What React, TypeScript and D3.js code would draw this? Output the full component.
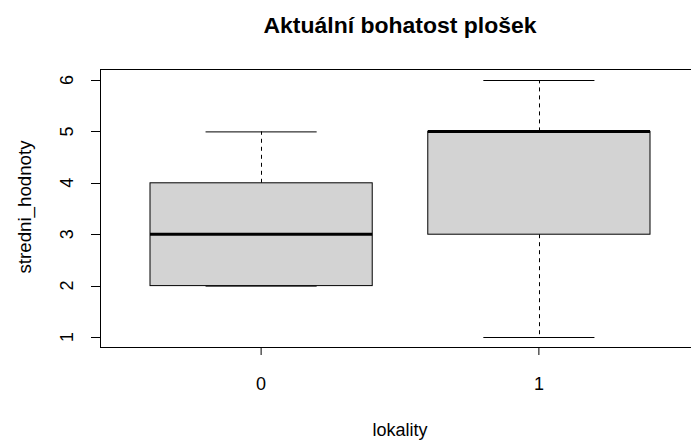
import React from "react";
import * as d3 from "d3";

const categories = ["0", "1"];
const lowerWhisker = [2, 1];
const q1 = [2, 3];
const median = [3, 5];
const q3 = [4, 5];
const upperWhisker = [5, 6];
const yTicks = [1, 2, 3, 4, 5, 6];

const W = 691;
const H = 441;

export default function App() {
  const left = 100, top = 69, bottom = 347, right = 700;
  const x = d3.scaleLinear().domain([0.42, 2.58]).range([left, right]);
  const y = d3.scaleLinear().domain([1, 6]).range([337, 80]);
  const font = "'Liberation Sans', Arial, sans-serif";
  const boxHalf = 0.4;
  const capHalf = 0.2;
  return (
    <svg width={W} height={H} style={{ position: "absolute", left: 0, top: 0, background: "#fff" }} fontFamily={font}>
      <text x={400} y={33} textAnchor="middle" fontSize={22} fontWeight="bold" textLength={273} lengthAdjust="spacingAndGlyphs">Aktuální bohatost plošek</text>
      {categories.map((c, i) => {
        const cx = x(i + 1);
        const x0 = x(i + 1 - boxHalf);
        const x1 = x(i + 1 + boxHalf);
        return (
          <g key={c}>
            <line x1={Math.round(cx) + 0.5} x2={Math.round(cx) + 0.5} y1={y(q3[i])} y2={y(upperWhisker[i])} stroke="#000" strokeDasharray="4 4" />
            <line x1={Math.round(cx) + 0.5} x2={Math.round(cx) + 0.5} y1={y(q1[i])} y2={y(lowerWhisker[i])} stroke="#000" strokeDasharray="4 4" />
            <line x1={x(i + 1 - capHalf)} x2={x(i + 1 + capHalf)} y1={y(upperWhisker[i]) + 0.5} y2={y(upperWhisker[i]) + 0.5} stroke="#000" />
            <line x1={x(i + 1 - capHalf)} x2={x(i + 1 + capHalf)} y1={y(lowerWhisker[i]) + 0.5} y2={y(lowerWhisker[i]) + 0.5} stroke="#000" />
            <rect x={x0} y={y(q3[i])} width={x1 - x0} height={y(q1[i]) - y(q3[i])} fill="#d3d3d3" stroke="#000" strokeWidth={1} />
            <line x1={x0} x2={x1} y1={y(median[i])} y2={y(median[i])} stroke="#000" strokeWidth={3} />
            <line x1={cx} x2={cx} y1={bottom} y2={bottom + 8} stroke="#000" />
            <text x={cx} y={390} textAnchor="middle" fontSize={18}>{c}</text>
          </g>
        );
      })}
      <rect x={left + 0.5} y={top + 0.5} width={right - left} height={bottom - top} fill="none" stroke="#000" />
      {yTicks.map((t) => (
        <g key={t}>
          <line x1={left - 9} x2={left} y1={Math.round(y(t)) + 0.5} y2={Math.round(y(t)) + 0.5} stroke="#000" />
          <text transform={`translate(${73},${y(t)}) rotate(-90)`} textAnchor="middle" fontSize={18}>{t}</text>
        </g>
      ))}
      <text transform={`translate(31,${207}) rotate(-90)`} textAnchor="middle" fontSize={18} textLength={133} lengthAdjust="spacingAndGlyphs">stredni_hodnoty</text>
      <text x={400} y={436} textAnchor="middle" fontSize={18} textLength={55} lengthAdjust="spacingAndGlyphs">lokality</text>
    </svg>
  );
}
